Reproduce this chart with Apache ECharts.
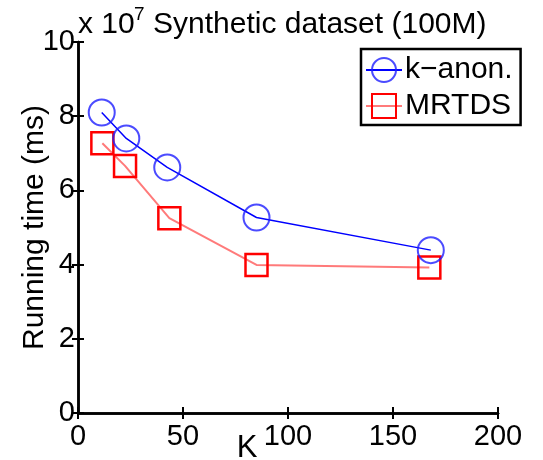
<!DOCTYPE html>
<html>
<head>
<meta charset="utf-8">
<script src="https://cdn.jsdelivr.net/npm/echarts@6/dist/echarts.min.js"></script>
<style>
html,body{margin:0;padding:0;background:#fff;}
#chart{width:543px;height:460px;}
</style>
</head>
<body>
<div id="chart"></div>
<script>
var kAnonK = [11.3, 23, 42.5, 85, 168];
var kAnonTime = [8.1, 7.4, 6.62, 5.27, 4.39];
var mrtdsK = [11.6, 22.4, 43.5, 85, 167.3];
var mrtdsTime = [7.27, 6.66, 5.25, 3.99, 3.92];
var seriesNames = ['k\u2212anon.', 'MRTDS'];
var titleText = 'Synthetic dataset (100M)';
var xName = 'K';
var yName = 'Running time (ms)';

var FONT = 'Liberation Sans, Arial, sans-serif';
function pairs(xs, ys){ return xs.map(function(x,i){ return [x, ys[i]]; }); }

var axisLine = {show:true, lineStyle:{color:'#000', width:2.5}};
var axisTick = {show:true, inside:true, length:6, lineStyle:{color:'#000', width:2}};
var labelStyle = {color:'#000', fontSize:29, fontFamily:FONT};

var chart = echarts.init(document.getElementById('chart'), null, {renderer:'canvas'});
chart.setOption({
  animation:false,
  backgroundColor:'#fff',
  grid:{left:78, right:45, top:42, bottom:47, containLabel:false, outerBoundsMode:'none'},
  xAxis:[{
    type:'value', min:0, max:200, interval:50, position:'bottom',
    axisLine:axisLine, axisTick:axisTick, splitLine:{show:false},
    axisLabel:Object.assign({margin:9}, labelStyle),
    name:xName, nameLocation:'middle', nameGap:20, nameMoveOverlap:false,
    nameTextStyle:{color:'#000', fontSize:31, fontFamily:FONT, padding:[0,82,0,0]}
  },{
    type:'value', min:0, max:200, interval:50, position:'top',
    axisLine:axisLine, axisTick:axisTick, splitLine:{show:false}, axisLabel:{show:false}
  }],
  yAxis:[{
    type:'value', min:0, max:10, interval:2, position:'left',
    axisLine:axisLine, axisTick:axisTick, splitLine:{show:false},
    axisLabel:Object.assign({margin:3}, labelStyle),
    name:yName, nameLocation:'middle', nameGap:28, nameMoveOverlap:false,
    nameTextStyle:{color:'#000', fontSize:30, fontFamily:FONT}
  },{
    type:'value', min:0, max:10, interval:2, position:'right',
    axisLine:axisLine, axisTick:axisTick, splitLine:{show:false}, axisLabel:{show:false}
  }],
  legend:{
    orient:'vertical', left:361, top:49, selectedMode:false,
    backgroundColor:'#fff', borderColor:'#000', borderWidth:2.5,
    padding:[6,8,4,4], itemGap:6, itemWidth:36, itemHeight:30,
    textStyle:{color:'#000', fontSize:30, fontFamily:FONT, padding:[0,0,0,-2]},
    data:seriesNames
  },
  graphic:[
    {type:'text', left:78, top:10, style:{text:'x 10', fontSize:30, fontFamily:FONT, fill:'#000'}},
    {type:'text', left:134, top:5, style:{text:'7', fontSize:19, fontFamily:FONT, fill:'#000'}},
    {type:'text', left:153, top:10, style:{text:titleText, fontSize:30, fontFamily:FONT, fill:'#000'}}
  ],
  series:[{
    name:seriesNames[0], type:'line', data:pairs(kAnonK, kAnonTime),
    symbol:'circle', symbolSize:26,
    itemStyle:{color:'rgba(0,0,0,0)', borderColor:'rgba(30,30,255,0.8)', borderWidth:2},
    lineStyle:{color:'#0000ff', width:1.5}, z:3
  },{
    name:seriesNames[1], type:'line', data:pairs(mrtdsK, mrtdsTime),
    symbol:'rect', symbolSize:22,
    itemStyle:{color:'rgba(0,0,0,0)', borderColor:'#ff0000', borderWidth:2.5},
    lineStyle:{color:'rgba(255,50,50,0.65)', width:2}, z:2
  }]
});
</script>
</body>
</html>
